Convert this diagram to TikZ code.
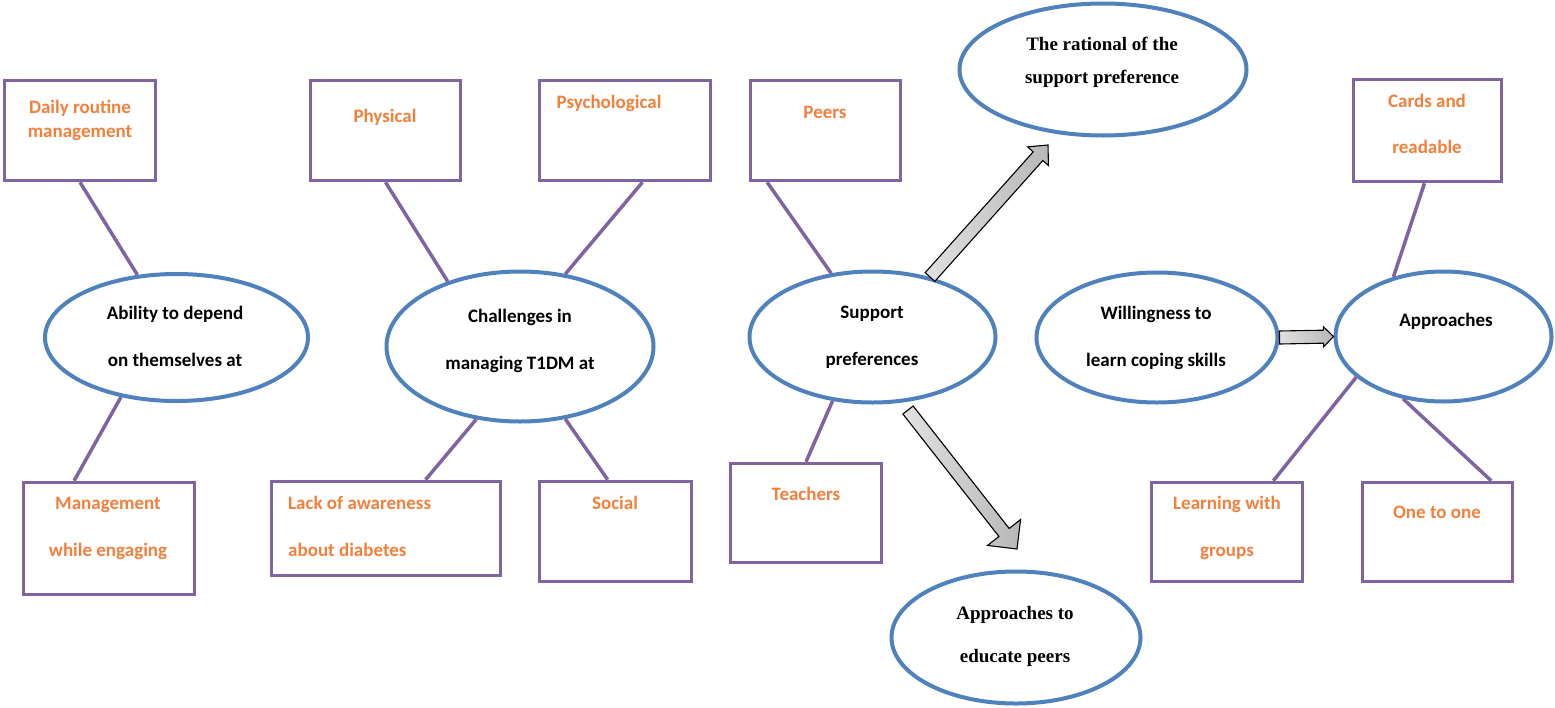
\documentclass[tikz,border=0pt]{standalone}
\usepackage{fontspec}
\setmainfont{Carlito}
\newfontfamily\timesf{Liberation Serif}
\usetikzlibrary{shapes.geometric,calc}
\definecolor{boxpurple}{HTML}{8064A2}
\definecolor{ellblue}{HTML}{4F81BD}
\definecolor{txtorange}{HTML}{F0803C}
\newcommand\fsz[1]{\fontsize{19}{#1}\selectfont\bfseries}
\newcommand\tsz[1]{\timesf\fontsize{19}{#1}\selectfont\bfseries}
\newcommand\lstrut{\rule[-5pt]{0pt}{18pt}}
\newcommand\blockarrow[5]{%
  \coordinate (bab) at ($(#2)!#5!(#1)$);
  \draw[blockarr] ($(#1)!#3!90:(#2)$) -- ($(bab)!#3!90:(#2)$) -- ($(bab)!#4!90:(#2)$) -- (#2)
    -- ($(bab)!#4!-90:(#2)$) -- ($(bab)!#3!-90:(#2)$) -- ($(#1)!#3!-90:(#2)$) -- cycle;}
\begin{document}
\begin{tikzpicture}[x=1pt,y=-1pt,
  rbox/.style={draw=boxpurple,line width=3.5pt,rectangle,inner sep=0pt},
  oval/.style={draw=ellblue,line width=4pt,ellipse,inner sep=0pt},
  link/.style={draw=boxpurple,line width=3.5pt},
  otext/.style={text=txtorange,inner sep=0pt,anchor=north,align=center},
  ktext/.style={text=black,inner sep=0pt,anchor=north,align=center},
  blockarr/.style={draw=black,line width=1.1pt,left color=black!12,right color=black!28,line join=miter}]
\useasboundingbox (0,0) rectangle (1555,707);

% boxes
\node[rbox,minimum width=151,minimum height=100] (b1) at (80,130.5) {};
\node[rbox,minimum width=150,minimum height=100] (b2) at (385.5,130.5) {};
\node[rbox,minimum width=171,minimum height=100] (b3) at (625,130.5) {};
\node[rbox,minimum width=150,minimum height=100] (b4) at (825.5,130.5) {};
\node[rbox,minimum width=148,minimum height=102] (b5) at (1427.5,130.5) {};
\node[rbox,minimum width=171,minimum height=112] (b6) at (109,538.5) {};
\node[rbox,minimum width=229,minimum height=94] (b7) at (386,528.5) {};
\node[rbox,minimum width=152,minimum height=100] (b8) at (615.5,531.5) {};
\node[rbox,minimum width=151,minimum height=99] (b9) at (806,513) {};
\node[rbox,minimum width=151,minimum height=99] (b10) at (1227,532) {};
\node[rbox,minimum width=150,minimum height=99] (b11) at (1437.5,532) {};

% ellipses
\node[oval,minimum width=263,minimum height=127] (A) at (176.5,337.5) {};
\node[oval,minimum width=267,minimum height=150] (B) at (520,346.5) {};
\node[oval,minimum width=246,minimum height=131] (C) at (872.5,337) {};
\node[oval,minimum width=287,minimum height=132] (D) at (1103,69.5) {};
\node[oval,minimum width=249,minimum height=132] (E) at (1016,637.5) {};
\node[oval,minimum width=241,minimum height=130] (F) at (1157,337.5) {};
\node[oval,minimum width=216,minimum height=130] (G) at (1443.5,336.5) {};

% box texts
\node[otext,font=\fsz{24}] (t1) at (80,100) {\lstrut Daily routine\\\lstrut management};
\node[otext,font=\fsz{24}] (t2) at (385,109) {\lstrut Physical};
\node[otext,font=\fsz{24}] (t3) at (609,95) {\lstrut Psychological};
\node[otext,font=\fsz{24}] (t4) at (825,105) {\lstrut Peers};
\node[otext,font=\fsz{46}] (t5) at (1427,94) {\lstrut Cards and\\\lstrut readable};
\node[otext,font=\fsz{47}] (t6) at (108,496) {\lstrut Management\\\lstrut while engaging};
\node[otext,font=\fsz{47},anchor=north west,align=left] (t7) at (288,496) {\lstrut Lack of awareness\\\lstrut about diabetes};
\node[otext,font=\fsz{24}] (t8) at (615,496) {\lstrut Social};
\node[otext,font=\fsz{24}] (t9) at (806,487) {\lstrut Teachers};
\node[otext,font=\fsz{47}] (t10) at (1227,496) {\lstrut Learning with\\\lstrut groups};
\node[otext,font=\fsz{24}] (t11) at (1437,505) {\lstrut One to one};

% ellipse texts
\node[ktext,font=\fsz{47}] (tA) at (175,306) {\lstrut Ability to depend\\\lstrut on themselves at};
\node[ktext,font=\fsz{47}] (tB) at (520,309) {\lstrut Challenges in\\\lstrut managing T1DM at};
\node[ktext,font=\fsz{47}] (tC) at (872,305) {\lstrut Support\\\lstrut preferences};
\node[ktext,font=\tsz{33}] (tD) at (1102,37) {\lstrut The rational of the\\\lstrut support preference};
\node[ktext,font=\tsz{43}] (tE) at (1015,606) {\lstrut Approaches to\\\lstrut educate peers};
\node[ktext,font=\fsz{47}] (tF) at (1156,306) {\lstrut Willingness to\\\lstrut learn coping skills};
\node[ktext,font=\fsz{24}] (tG) at (1446,313) {\lstrut Approaches};

% connectors
\draw[link] (b1.south) -- (A.122);
\draw[link] (A.227) -- ($(b6.north west)!0.30!(b6.north east)$);
\draw[link] (b2.south) -- (B.138);
\draw[link] ($(b3.south west)!0.60!(b3.south east)$) -- (B.58);
\draw[link] (B.239) -- ($(b7.north west)!0.67!(b7.north east)$);
\draw[link] (B.302) -- ($(b8.north west)!0.45!(b8.north east)$);
\draw[link] ($(b4.south west)!0.12!(b4.south east)$) -- (C.123);
\draw[link] (C.238) -- (b9.north);
\draw[link] ($(b5.south west)!0.48!(b5.south east)$) -- (G.130);
\draw[link] (G.205) -- ($(b10.north west)!0.8!(b10.north east)$);
\draw[link] (G.237) -- ($(b11.north west)!0.85!(b11.north east)$);

% block arrows
\coordinate (a1t) at (930,277);
\coordinate (a1h) at (1048,145);
\coordinate (a2t) at (908,410);
\coordinate (a2h) at (1017,549);
\blockarrow{a1t}{a1h}{6.5pt}{14pt}{15pt}
\blockarrow{a2t}{a2h}{6.5pt}{21pt}{21pt}
\blockarrow{F.east}{G.west}{6.5pt}{10pt}{10pt}
\end{tikzpicture}
\end{document}
